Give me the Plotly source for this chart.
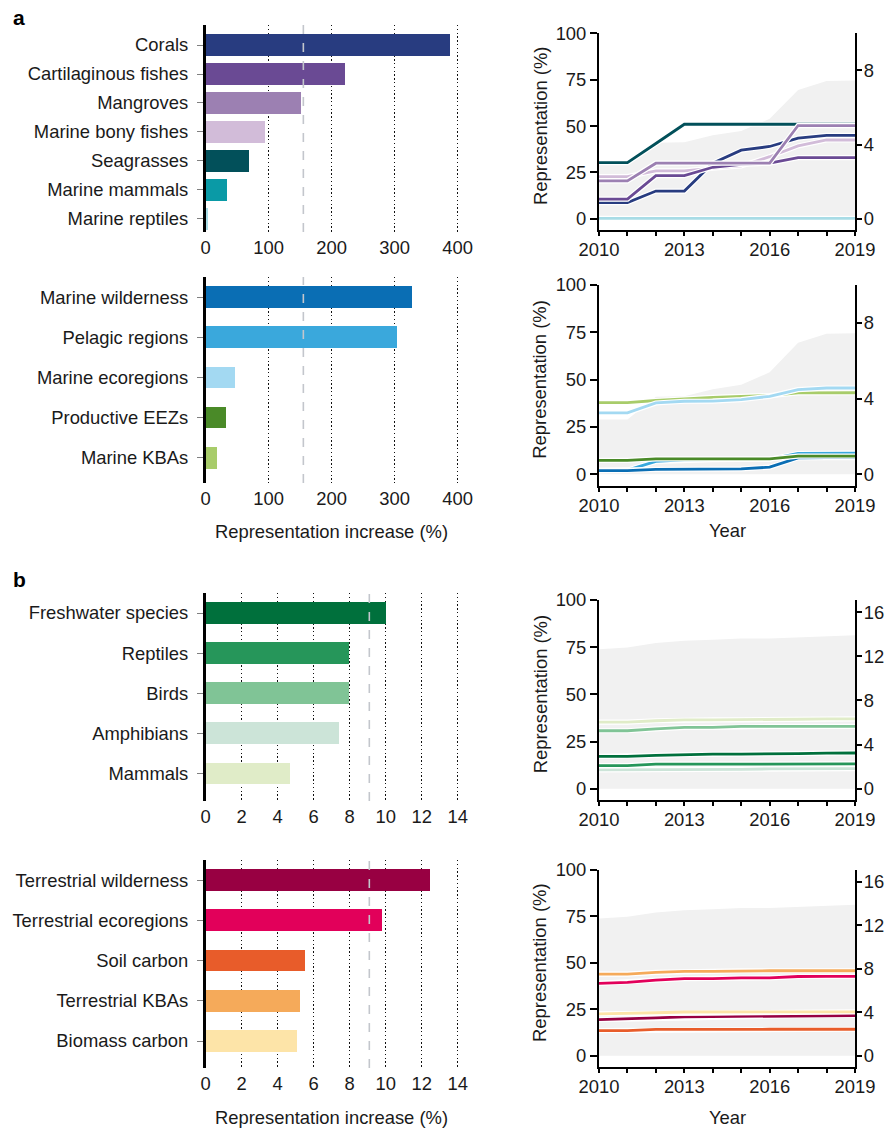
import plotly.graph_objects as go

W, H = 885, 1129
FONT = "Liberation Sans, Arial, Helvetica, sans-serif"
TXT = "#1a1a1a"

# ---------------- DATA ----------------
years = list(range(2010, 2020))
year_ticktext = ["2010", "", "", "2013", "", "", "2016", "", "", "2019"]

# Panel a, top: marine species & habitats
a1_names = ["Corals", "Cartilaginous fishes", "Mangroves", "Marine bony fishes",
            "Seagrasses", "Marine mammals", "Marine reptiles"]
a1_increase = [388, 220, 151, 93, 69, 34, 2]
a1_colors = ["#283c80", "#6a4a94", "#9c80b2", "#d2bcd9", "#02505a", "#0a9aa6", "#a8dce6"]

# Panel a, bottom: marine regions
a2_names = ["Marine wilderness", "Pelagic regions", "Marine ecoregions",
            "Productive EEZs", "Marine KBAs"]
a2_increase = [327, 303, 46, 31, 18]
a2_colors = ["#0a6eb4", "#3aa8dc", "#a3d9f2", "#4a8a28", "#a8cc6a"]

# Panel b, top: terrestrial species
b1_names = ["Freshwater species", "Reptiles", "Birds", "Amphibians", "Mammals"]
b1_increase = [10.0, 7.96, 7.96, 7.4, 4.68]
b1_colors = ["#00703c", "#26965a", "#80c496", "#cce4d8", "#e0ecc8"]

# Panel b, bottom: terrestrial regions
b2_names = ["Terrestrial wilderness", "Terrestrial ecoregions", "Soil carbon",
            "Terrestrial KBAs", "Biomass carbon"]
b2_increase = [12.46, 9.78, 5.52, 5.24, 5.06]
b2_colors = ["#980042", "#e2005a", "#e85c2a", "#f5aa5a", "#fde4a8"]

# Global protected-area increase (dashed reference lines)
marine_pa_increase = 155
terr_pa_increase = 9.09

# Protected-area coverage (right axes, %), grey shading
marine_pa = [2.9, 2.9, 4.1, 4.13, 4.5, 4.73, 5.39, 6.95, 7.43, 7.45]
terr_pa = [12.64, 12.8, 13.2, 13.4, 13.5, 13.6, 13.6, 13.7, 13.85, 13.9]

# Representation time series (left axes, %)
a1_series = {
    "Marine reptiles": [0.3, 0.3, 0.3, 0.3, 0.3, 0.3, 0.3, 0.3, 0.3, 0.3],
    "Corals": [8.8, 8.8, 15.0, 15.0, 30.0, 37.0, 39.0, 43.5, 45.0, 45.0],
    "Seagrasses": [30.3, 30.3, 40.6, 51.0, 51.0, 51.0, 51.0, 51.0, 51.0, 51.0],
    "Marine bony fishes": [22.8, 22.8, 25.9, 25.9, 27.3, 28.5, 33.5, 39.3, 42.5, 42.5],
    "Cartilaginous fishes": [10.6, 10.6, 23.3, 23.3, 27.8, 29.4, 30.0, 33.0, 33.0, 33.0],
    "Mangroves": [20.5, 20.5, 30.0, 30.0, 30.0, 30.0, 30.0, 50.3, 50.3, 50.3],
}
a2_series = {
    "Pelagic regions": [2.2, 2.2, 6.8, 7.6, 7.8, 7.9, 8.0, 11.0, 11.2, 11.2],
    "Marine wilderness": [2.0, 2.0, 2.6, 2.7, 2.8, 2.9, 3.8, 8.7, 8.8, 8.8],
    "Productive EEZs": [7.4, 7.4, 8.2, 8.2, 8.2, 8.2, 8.2, 9.6, 9.6, 9.6],
    "Marine KBAs": [37.9, 37.9, 39.0, 40.0, 40.7, 41.2, 41.6, 43.0, 43.1, 43.1],
    "Marine ecoregions": [32.5, 32.5, 37.7, 38.6, 38.7, 39.5, 41.2, 44.7, 45.6, 45.6],
}
b1_series = {
    "Amphibians": [10.0, 10.0, 10.0, 10.1, 10.1, 10.2, 10.5, 10.6, 10.6, 10.6],
    "Reptiles": [12.2, 12.2, 13.0, 13.0, 13.0, 13.1, 13.1, 13.1, 13.1, 13.1],
    "Freshwater species": [17.1, 17.1, 17.6, 18.0, 18.3, 18.3, 18.3, 18.6, 18.8, 18.9],
    "Birds": [30.7, 30.7, 31.7, 32.5, 32.5, 33.0, 33.0, 33.0, 33.0, 33.0],
    "Mammals": [35.3, 35.3, 36.0, 36.5, 36.5, 36.5, 36.6, 36.8, 37.0, 37.0],
}
b2_series = {
    "Soil carbon": [13.6, 13.6, 14.2, 14.3, 14.3, 14.3, 14.3, 14.3, 14.3, 14.3],
    "Terrestrial wilderness": [19.5, 19.8, 20.4, 21.0, 21.1, 21.5, 21.6, 21.6, 21.7, 21.7],
    "Biomass carbon": [22.6, 22.7, 23.2, 23.6, 23.6, 23.7, 23.7, 23.7, 23.7, 23.7],
    "Terrestrial ecoregions": [39.0, 39.5, 40.7, 41.5, 41.5, 42.0, 42.0, 42.7, 42.8, 42.8],
    "Terrestrial KBAs": [44.0, 44.0, 44.9, 45.4, 45.4, 45.8, 45.8, 45.8, 45.8, 45.8],
}

# ---------------- LAYOUT HELPERS ----------------
def fx(p):
    return p / W

def fy(p):
    return 1 - p / H

def ax_id(letter, i):
    return letter if i == 1 else f"{letter}{i}"

def ax_key(letter, i):
    return f"{letter}axis" if i == 1 else f"{letter}axis{i}"

FS = 18.4
fig = go.Figure()
layout = {}
annotations = []
shapes = []

bar_panels = [
    dict(names=a1_names, vals=a1_increase, colors=a1_colors, top=25, bottom=232,
         pad_t=0.69, pad_b=0.45, bw=0.75, rng=[0, 420], ticks=[0, 100, 200, 300, 400],
         dash=marine_pa_increase),
    dict(names=a2_names, vals=a2_increase, colors=a2_colors, top=277, bottom=483,
         pad_t=0.5, pad_b=0.63, bw=0.54, rng=[0, 420], ticks=[0, 100, 200, 300, 400],
         dash=marine_pa_increase),
    dict(names=b1_names, vals=b1_increase, colors=b1_colors, top=593, bottom=801,
         pad_t=0.5, pad_b=0.69, bw=0.54, rng=[0, 14.7], ticks=list(range(0, 15, 2)),
         dash=terr_pa_increase),
    dict(names=b2_names, vals=b2_increase, colors=b2_colors, top=860, bottom=1068,
         pad_t=0.5, pad_b=0.67, bw=0.54, rng=[0, 14.7], ticks=list(range(0, 15, 2)),
         dash=terr_pa_increase),
]

bx0, bx1 = 205.7, 470.3
for i, p in enumerate(bar_panels, start=1):
    xa, ya = ax_id("x", i), ax_id("y", i)
    fig.add_trace(go.Bar(x=p["vals"], y=p["names"], orientation="h",
                         marker=dict(color=p["colors"], line=dict(width=0)),
                         width=p["bw"], xaxis=xa, yaxis=ya, showlegend=False,
                         hoverinfo="x+y"))
    n = len(p["names"])
    layout[ax_key("x", i)] = dict(
        domain=[fx(bx0), fx(bx1)], anchor=ya, range=p["rng"], tickvals=p["ticks"],
        showgrid=True, griddash="1.3px,2.5px", gridcolor="#111111", gridwidth=1.4,
        showline=False, zeroline=False, ticks="", ticklabelstandoff=3,
        tickfont=dict(size=FS, color=TXT, family=FONT),
        fixedrange=True)
    layout[ax_key("y", i)] = dict(
        domain=[fy(p["bottom"]), fy(p["top"])], anchor=xa, type="category",
        categoryorder="array", categoryarray=p["names"],
        range=[n - 1 + p["pad_b"], -p["pad_t"]],
        showline=True, linecolor="#000000", linewidth=2.6, showgrid=False,
        zeroline=False, ticks="outside", ticklen=6, tickwidth=1.4, tickcolor="#808080",
        ticklabelstandoff=5, tickfont=dict(size=FS, color=TXT, family=FONT),
        fixedrange=True)
    shapes.append(dict(type="line", xref=xa, yref=f"{ya} domain",
                       x0=p["dash"], x1=p["dash"], y0=0, y1=1, layer="above",
                       line=dict(color="#c3c6cc", width=1.6, dash="dash")))

# Line panels
line_panels = [
    dict(series=a1_series, names=a1_names, colors=a1_colors, pa=marine_pa,
         top=33.3, bottom=230, rrange=[-0.6, 10.0], rticks=[0, 4, 8]),
    dict(series=a2_series, names=a2_names, colors=a2_colors, pa=marine_pa,
         top=285, bottom=485.7, rrange=[-0.6, 10.0], rticks=[0, 4, 8]),
    dict(series=b1_series, names=b1_names, colors=b1_colors, pa=terr_pa,
         top=600, bottom=800, rrange=[-1.026, 17.1], rticks=[0, 4, 8, 12, 16]),
    dict(series=b2_series, names=b2_names, colors=b2_colors, pa=terr_pa,
         top=870, bottom=1067, rrange=[-1.026, 17.1], rticks=[0, 4, 8, 12, 16]),
]

lx0, lx1 = 599, 855
for j, p in enumerate(line_panels):
    k = 5 + j
    xa = f"x{k}"
    yr = f"y{k}"        # right axis (protected-area shading), base layer
    yl = f"y{k + 4}"    # left axis (representation lines), overlay on top
    fig.add_trace(go.Scatter(x=years, y=p["pa"], mode="lines", fill="tozeroy",
                             fillcolor="#f1f1f1", line=dict(width=0, color="#f1f1f1"),
                             xaxis=xa, yaxis=yr, showlegend=False, hoverinfo="skip"))
    cmap = dict(zip(p["names"], p["colors"]))
    for name, vals in p["series"].items():
        fig.add_trace(go.Scatter(x=years, y=vals, mode="lines",
                                 line=dict(color="white", width=5.2),
                                 xaxis=xa, yaxis=yl, showlegend=False, hoverinfo="skip"))
        fig.add_trace(go.Scatter(x=years, y=vals, mode="lines", name=name,
                                 line=dict(color=cmap[name], width=2.8),
                                 xaxis=xa, yaxis=yl, showlegend=False))
    dom = [fy(p["bottom"]), fy(p["top"])]
    layout[f"xaxis{k}"] = dict(
        domain=[fx(lx0), fx(lx1)], anchor=yr, range=[2010, 2019],
        tickvals=years, ticktext=year_ticktext, ticks="outside", ticklen=4,
        tickwidth=1.5, tickcolor="#000", showline=True, linecolor="#000",
        linewidth=2, showgrid=False, zeroline=False, ticklabelstandoff=-2,
        tickfont=dict(size=FS, color=TXT, family=FONT), fixedrange=True)
    layout[f"yaxis{k}"] = dict(
        domain=dom, anchor=xa, side="right", range=p["rrange"], tickvals=p["rticks"],
        ticks="outside", ticklen=5, tickwidth=1.5, tickcolor="#000",
        ticklabelstandoff=-2,
        showline=True, linecolor="#000", linewidth=2, showgrid=False, zeroline=False,
        tickfont=dict(size=FS, color=TXT, family=FONT), fixedrange=True)
    layout[f"yaxis{k + 4}"] = dict(
        overlaying=yr, anchor=xa, side="left", range=[-6, 100],
        tickvals=[0, 25, 50, 75, 100], ticks="outside", ticklen=7, tickwidth=1.5,
        tickcolor="#000", showline=True, linecolor="#000", linewidth=2,
        showgrid=False, zeroline=False,
        tickfont=dict(size=FS, color=TXT, family=FONT), fixedrange=True)
    annotations.append(dict(text="Representation (%)", xref="paper", yref=yl,
                            x=fx(540), y=50, textangle=-90, showarrow=False,
                            xanchor="center", yanchor="middle",
                            font=dict(size=FS, color=TXT, family=FONT)))

for ytxt in (531, 1117):
    annotations.append(dict(text="Representation increase (%)", xref="paper", yref="paper",
                            x=fx(331.7), y=fy(ytxt), showarrow=False,
                            xanchor="center", yanchor="middle",
                            font=dict(size=FS, color=TXT, family=FONT)))
for ytxt in (530, 1117):
    annotations.append(dict(text="Year", xref="paper", yref="paper",
                            x=fx(727), y=fy(ytxt), showarrow=False,
                            xanchor="center", yanchor="middle",
                            font=dict(size=FS, color=TXT, family=FONT)))
for lab, ytxt in (("a", 17), ("b", 579)):
    annotations.append(dict(text=f"<b>{lab}</b>", xref="paper", yref="paper",
                            x=fx(11), y=fy(ytxt), showarrow=False,
                            xanchor="left", yanchor="middle",
                            font=dict(size=21, color="#000", family=FONT)))

fig.update_layout(
    width=W, height=H, margin=dict(l=0, r=0, t=0, b=0, pad=0, autoexpand=False),
    paper_bgcolor="white", plot_bgcolor="rgba(0,0,0,0)",
    font=dict(family=FONT, size=FS, color=TXT),
    showlegend=False, bargap=0, annotations=annotations, shapes=shapes,
    **layout)

fig.write_html("out.html", config={"displayModeBar": False},
               post_script="document.body.style.margin='0';document.body.style.overflow='hidden';")
